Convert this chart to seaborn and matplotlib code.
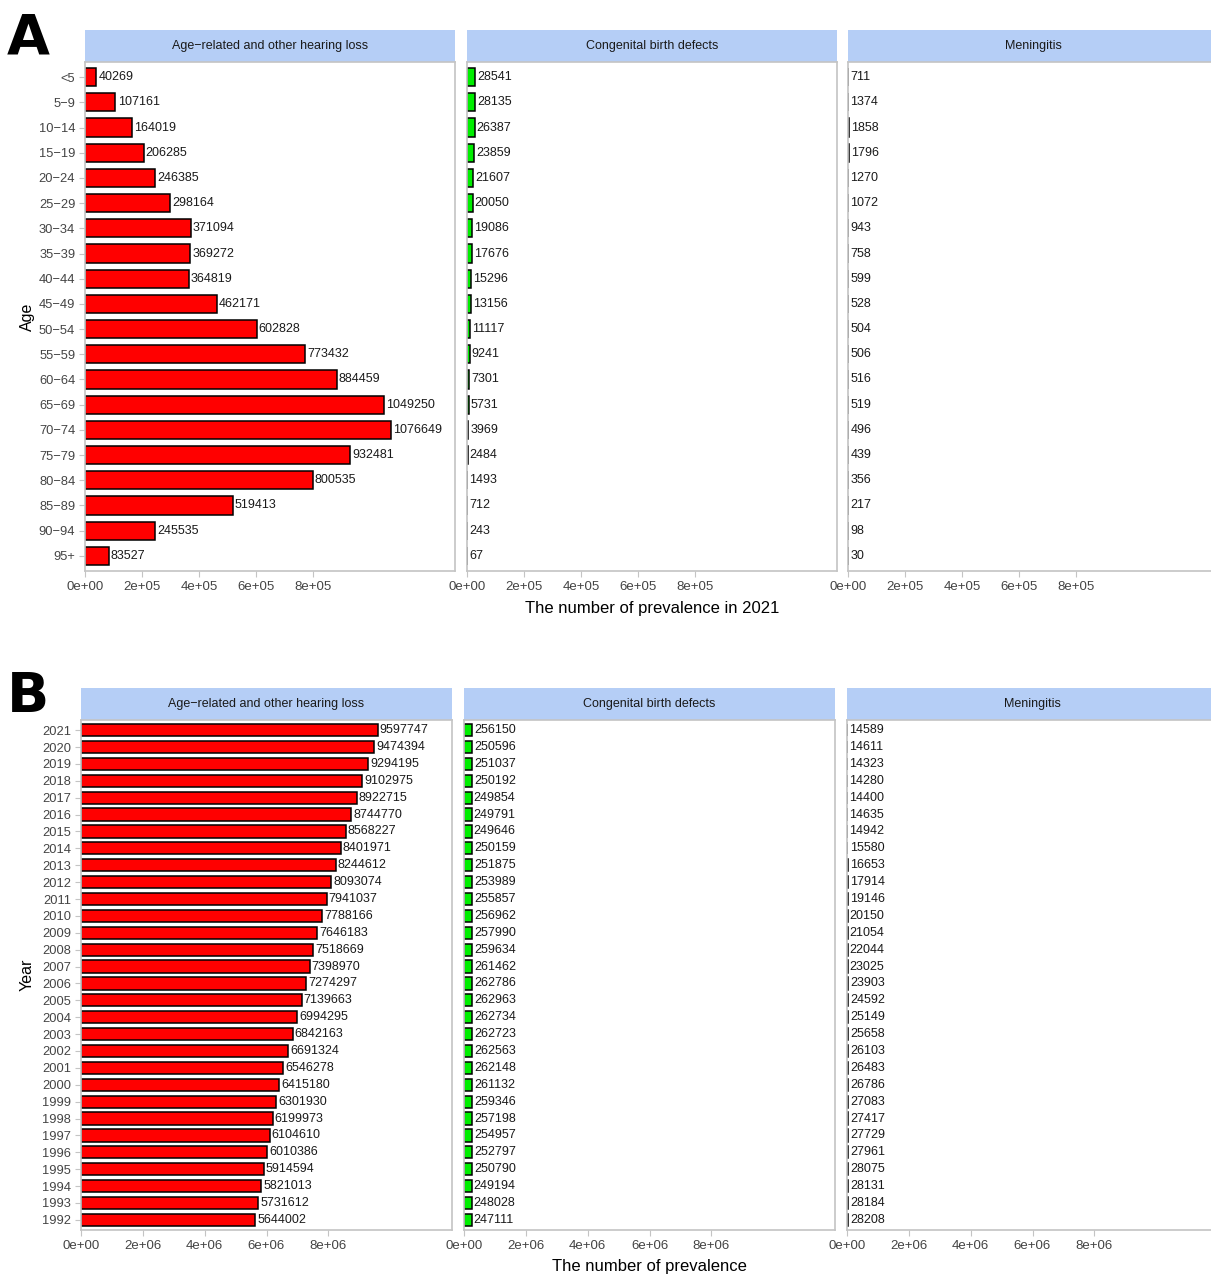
import pandas as pd
import matplotlib.pyplot as plt
import seaborn as sns

# ---- data ----
diseases = ["Age\u2212related and other hearing loss", "Congenital birth defects", "Meningitis"]

age_groups = ["<5", "5\u22129", "10\u221214", "15\u221219", "20\u221224", "25\u221229", "30\u221234",
              "35\u221239", "40\u221244", "45\u221249", "50\u221254", "55\u221259", "60\u221264",
              "65\u221269", "70\u221274", "75\u221279", "80\u221284", "85\u221289", "90\u221294", "95+"]
hearing_age = [40269, 107161, 164019, 206285, 246385, 298164, 371094, 369272, 364819, 462171,
               602828, 773432, 884459, 1049250, 1076649, 932481, 800535, 519413, 245535, 83527]
congenital_age = [28541, 28135, 26387, 23859, 21607, 20050, 19086, 17676, 15296, 13156,
                  11117, 9241, 7301, 5731, 3969, 2484, 1493, 712, 243, 67]
meningitis_age = [711, 1374, 1858, 1796, 1270, 1072, 943, 758, 599, 528,
                  504, 506, 516, 519, 496, 439, 356, 217, 98, 30]

years = [str(y) for y in range(2021, 1991, -1)]
hearing_year = [9597747, 9474394, 9294195, 9102975, 8922715, 8744770, 8568227, 8401971, 8244612,
                8093074, 7941037, 7788166, 7646183, 7518669, 7398970, 7274297, 7139663, 6994295,
                6842163, 6691324, 6546278, 6415180, 6301930, 6199973, 6104610, 6010386, 5914594,
                5821013, 5731612, 5644002]
congenital_year = [256150, 250596, 251037, 250192, 249854, 249791, 249646, 250159, 251875, 253989,
                   255857, 256962, 257990, 259634, 261462, 262786, 262963, 262734, 262723, 262563,
                   262148, 261132, 259346, 257198, 254957, 252797, 250790, 249194, 248028, 247111]
meningitis_year = [14589, 14611, 14323, 14280, 14400, 14635, 14942, 15580, 16653, 17914,
                   19146, 20150, 21054, 22044, 23025, 23903, 24592, 25149, 25658, 26103,
                   26483, 26786, 27083, 27417, 27729, 27961, 28075, 28131, 28184, 28208]

ticks_a = [0, 2e5, 4e5, 6e5, 8e5]
ticklabels_a = ["0e+00", "2e+05", "4e+05", "6e+05", "8e+05"]
ticks_b = [0, 2e6, 4e6, 6e6, 8e6]
ticklabels_b = ["0e+00", "2e+06", "4e+06", "6e+06", "8e+06"]

bar_colors = ["#FF0000", "#00EE00", "#0000FF"]

# ---- style ----
sns.set_theme(style="white")
plt.rcParams["font.family"] = ["Liberation Sans", "DejaVu Sans"]

W, H = 1211, 1276
fig = plt.figure(figsize=(W / 100, H / 100), dpi=100)
fig.patch.set_facecolor("white")

BORDER = "#C4C4C4"
STRIP = "#B5CEF6"
TICKTXT = "#444444"


def px_axes(x, y, w, h):
    return fig.add_axes([x / W, 1 - (y + h) / H, w / W, h / H])


def draw_row(cats, series, lefts, width, strip_top, plot_top, plot_bottom,
             xmax, ticks, ticklabels, ylabel, xlabel, xlabel_y, letter, letter_y):
    for k, (vals, name) in enumerate(zip(series, diseases)):
        left = lefts[k]
        # facet strip
        sax = px_axes(left, strip_top, width, plot_top - strip_top)
        sax.set_facecolor(STRIP)
        sax.set_xticks([])
        sax.set_yticks([])
        for s in sax.spines.values():
            s.set_visible(False)
        sax.text(0.5, 0.5, name, ha="center", va="center", fontsize=9, color="#1a1a1a",
                 transform=sax.transAxes)

        ax = px_axes(left, plot_top, width, plot_bottom - plot_top)
        df = pd.DataFrame({"cat": cats, "value": vals})
        sns.barplot(data=df, x="value", y="cat", order=cats, color=bar_colors[k],
                    saturation=1, edgecolor="black", linewidth=1.1, width=0.72, ax=ax)
        for i, v in enumerate(vals):
            ax.annotate(f"{v}", (v, i), xytext=(1.5, 0), textcoords="offset points",
                        va="center", ha="left", fontsize=9, color="#1a1a1a")

        ax.set_xlim(0, xmax)
        ax.set_ylim(len(cats) - 1 + 0.6, -0.6)
        ax.set_xticks(ticks)
        ax.set_xticklabels(ticklabels)
        ax.set_xlabel("")
        ax.set_ylabel("")
        ax.tick_params(axis="x", direction="out", length=4, width=0.8, color=BORDER,
                       labelsize=9.5, labelcolor=TICKTXT, pad=3, bottom=True)
        if k == 0:
            ax.tick_params(axis="y", direction="out", length=4, width=0.8, color=BORDER,
                           labelsize=9.3, labelcolor=TICKTXT, pad=3, left=True)
        else:
            ax.tick_params(axis="y", left=False, labelleft=False)
        for s in ax.spines.values():
            s.set_visible(True)
            s.set_color(BORDER)
            s.set_linewidth(1.2)
        ax.grid(False)

    # axis titles
    fig.text((lefts[1] + width / 2) / W, 1 - xlabel_y / H, xlabel, ha="center", va="center",
             fontsize=12, color="black")
    fig.text(27 / W, 1 - ((plot_top + plot_bottom) / 2) / H, ylabel, rotation=90,
             ha="center", va="center", fontsize=11.5, color="black")
    fig.text(28 / W, 1 - letter_y / H, letter, ha="center", va="center", fontsize=40,
             fontweight="bold", color="black", family="DejaVu Sans")


draw_row(age_groups, [hearing_age, congenital_age, meningitis_age],
         lefts=[85, 467, 848], width=370, strip_top=30, plot_top=62, plot_bottom=571,
         xmax=1.3e6, ticks=ticks_a, ticklabels=ticklabels_a,
         ylabel="Age", xlabel="The number of prevalence in 2021", xlabel_y=609,
         letter="A", letter_y=38)

draw_row(years, [hearing_year, congenital_year, meningitis_year],
         lefts=[81, 464, 847], width=371, strip_top=688, plot_top=720, plot_bottom=1230,
         xmax=1.2e7, ticks=ticks_b, ticklabels=ticklabels_b,
         ylabel="Year", xlabel="The number of prevalence", xlabel_y=1267,
         letter="B", letter_y=697)

fig.savefig("out.png", dpi=100, facecolor="white")
